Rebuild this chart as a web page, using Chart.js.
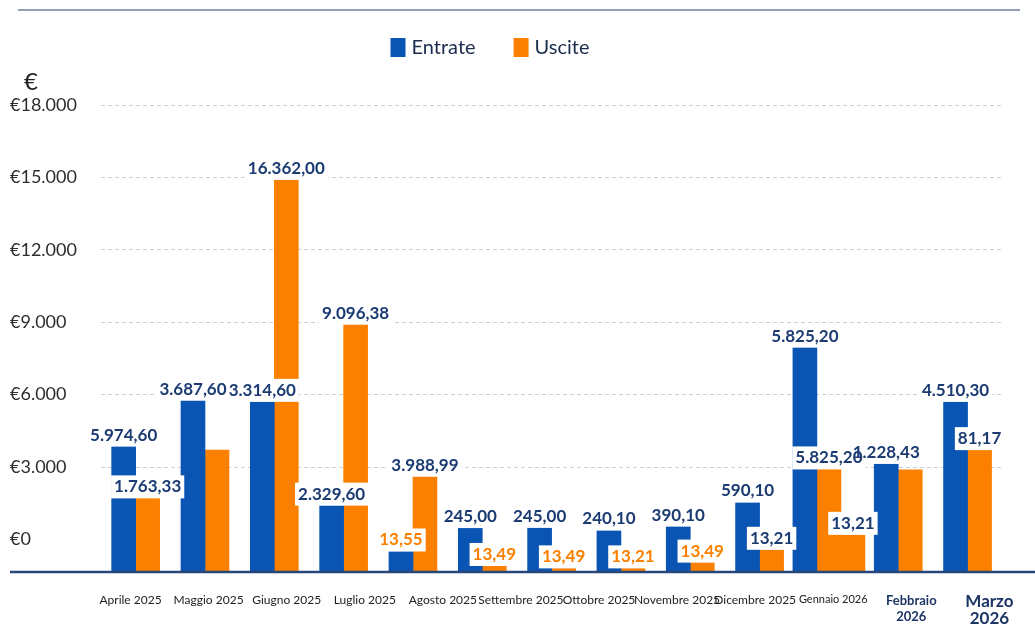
<!DOCTYPE html>
<html>
<head>
<meta charset="utf-8">
<script src="https://cdn.jsdelivr.net/npm/chart.js@4.4.1/dist/chart.umd.min.js"></script>
<style>
  html, body { margin: 0; padding: 0; background: #fff; }
  #wrap { width: 1035px; height: 624px; }
</style>
</head>
<body>
<div id="wrap"><canvas id="chart"></canvas></div>
<script>
// bar groups as they appear in the picture (13 groups, 12 month labels underneath)
const barGroups = ['Apr 25', 'Mag 25', 'Giu 25', 'Lug 25', 'Ago 25', 'Set 25', 'Set 25 bis',
  'Ott 25', 'Nov 25', 'Dic 25', 'Gen 26', 'Feb 26', 'Mar 26'];
const monthLabels = ['Aprile 2025', 'Maggio 2025', 'Giugno 2025', 'Luglio 2025', 'Agosto 2025',
  'Settembre 2025', 'Ottobre 2025', 'Novembre 2025', 'Dicembre 2025', 'Gennaio 2026',
  ['Febbraio', '2026'], ['Marzo', '2026']];

// bar heights read against the y axis
const entrate = [3850, 5750, 5700, 1400, -500, 470, 480, 370, 535, 1530, 7950, 3130, 5700];
const uscite = [1700, 3700, 14900, 8900, 2600, -1100, -1200, -1200, -960, -430, 2900, 2880, 3700];
const usciteExtra = [null, null, null, null, null, null, null, null, null, null, 190, null, null];

// printed values above the bars
const entrateText = ['5.974,60', '3.687,60', '3.314,60', '2.329,60', '13,55', '245,00', '245,00',
  '240,10', '390,10', '590,10', '5.825,20', '1.228,43', '4.510,30'];
const usciteText = ['1.763,33', '', '16.362,00', '9.096,38', '3.988,99', '13,49', '13,49',
  '13,21', '13,49', '13,21', '5.825,20', '', '81,17'];
const usciteExtraText = ['', '', '', '', '', '', '', '', '', '', '13,21', '', ''];

const yTicks = [0, 3000, 6000, 9000, 12000, 15000, 18000];
const yMin = -1350;
const yMax = 18000;

const BLUE = '#0a55b3';
const ORANGE = '#fb8000';
const NAVY = '#1b3b72';

const entrateTextColor = entrateText.map((t, i) => i === 4 ? ORANGE : NAVY);
const usciteTextColor = usciteText.map((t, i) => (i >= 5 && i <= 8) ? ORANGE : NAVY);

function euro(v) {
  return '€' + String(v).replace(/\B(?=(\d{3})+(?!\d))/g, '.');
}

const valueLabels = {
  id: 'valueLabels',
  afterDatasetsDraw(chart) {
    const ctx = chart.ctx;
    ctx.save();
    ctx.font = 'bold 17px Lato';
    ctx.textAlign = 'center';
    ctx.textBaseline = 'alphabetic';
    const items = [];
    chart.data.datasets.forEach((ds, di) => {
      chart.getDatasetMeta(di).data.forEach((bar, i) => {
        const txt = ds.valueText[i];
        if (txt) items.push({ txt, x: bar.x, y: bar.y, color: ds.textColor[i] });
      });
    });
    // white boxes first, then the numbers on top
    ctx.fillStyle = '#fff';
    items.forEach(it => {
      const w = ctx.measureText(it.txt).width + 6;
      ctx.fillRect(it.x - w / 2, it.y - 23, w, 23);
    });
    items.forEach(it => {
      ctx.fillStyle = it.color;
      ctx.fillText(it.txt, it.x, it.y - 6);
    });
    // axis base line
    const y = chart.chartArea.bottom;
    ctx.strokeStyle = '#27477a';
    ctx.lineWidth = 2.5;
    ctx.beginPath();
    ctx.moveTo(10, y);
    ctx.lineTo(chart.width, y);
    ctx.stroke();
    ctx.restore();
  }
};

const decor = {
  id: 'decor',
  afterDraw(chart) {
    const ctx = chart.ctx;
    ctx.save();
    // top rule
    ctx.strokeStyle = '#6e7f9c';
    ctx.lineWidth = 1.5;
    ctx.beginPath();
    ctx.moveTo(18, 10);
    ctx.lineTo(1020, 10);
    ctx.stroke();
    // unit
    ctx.fillStyle = '#222';
    ctx.font = '24px Lato';
    ctx.textBaseline = 'alphabetic';
    ctx.fillText('€', 24, 90);
    // legend
    const items = chart.data.datasets.filter(d => !d.hideInLegend);
    ctx.font = '20px Lato';
    ctx.textBaseline = 'middle';
    const widths = items.map(d => ctx.measureText(d.label).width);
    const total = widths.reduce((a, b) => a + b, 0) + items.length * 21 + (items.length - 1) * 38;
    let x = 490 - total / 2;
    items.forEach((d, i) => {
      ctx.fillStyle = d.backgroundColor;
      ctx.fillRect(x, 38, 15, 19);
      ctx.fillStyle = '#1c2c4c';
      ctx.fillText(d.label, x + 21, 48);
      x += 21 + widths[i] + 38;
    });
    ctx.restore();
  }
};

new Chart(document.getElementById('chart'), {
  type: 'bar',
  data: {
    labels: barGroups,
    datasets: [
      { label: 'Entrate', data: entrate, backgroundColor: BLUE, base: yMin,
        valueText: entrateText, textColor: entrateTextColor },
      { label: 'Uscite', data: uscite, backgroundColor: ORANGE, base: yMin,
        valueText: usciteText, textColor: usciteTextColor },
      { label: 'Uscite', data: usciteExtra, backgroundColor: ORANGE, base: yMin, hideInLegend: true,
        valueText: usciteExtraText, textColor: usciteExtraText.map(() => NAVY) }
    ]
  },
  options: {
    responsive: true,
    maintainAspectRatio: false,
    animation: false,
    layout: { padding: { left: 10, right: 19, top: 105, bottom: 0 } },
    datasets: { bar: { barThickness: 24, skipNull: true, borderWidth: 0 } },
    plugins: { legend: { display: false }, tooltip: { enabled: false } },
    scales: {
      x: { type: 'category', display: false, offset: true },
      x2: {
        type: 'linear', position: 'bottom', min: -0.378, max: 11.164, offset: false,
        afterBuildTicks: s => { s.ticks = monthLabels.map((m, i) => ({ value: i })); },
        afterFit: s => { s.height = 52; },
        grid: { display: false, drawTicks: false, offset: false },
        border: { display: false },
        ticks: {
          autoSkip: false, maxRotation: 0, minRotation: 0, padding: 21,
          callback: (v, i) => monthLabels[i],
          color: c => c.index >= 10 ? '#1d3565' : '#222',
          font: c => {
            if (c.index === 9) return { family: 'Lato', size: 11, lineHeight: 1.2 };
            if (c.index === 10) return { family: 'Lato', size: 13, weight: 'bold', lineHeight: 1.2 };
            if (c.index === 11) return { family: 'Lato', size: 17, weight: 'bold', lineHeight: 1.0 };
            return { family: 'Lato', size: 12, lineHeight: 1.2 };
          }
        }
      },
      y: {
        min: yMin, max: yMax,
        afterBuildTicks: s => { s.ticks = yTicks.map(v => ({ value: v })); },
        afterFit: s => { s.width = 91; },
        grid: {
          drawTicks: false, lineWidth: 1,
          color: c => c.tick && c.tick.value === 0 ? 'rgba(0,0,0,0)' : '#cfcfcf'
        },
        border: { display: false, dash: [4, 3] },
        ticks: {
          crossAlign: 'far', padding: 0,
          color: '#2d2d2d',
          font: { family: 'Lato', size: 18 },
          callback: v => euro(v)
        }
      }
    }
  },
  plugins: [valueLabels, decor]
});
</script>
</body>
</html>
